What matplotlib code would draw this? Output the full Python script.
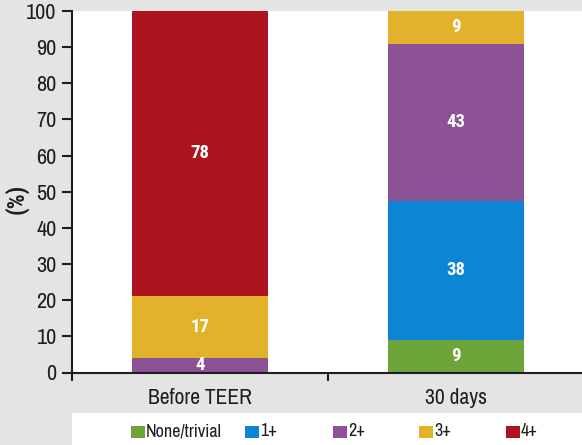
import matplotlib
matplotlib.use("Agg")
import matplotlib.pyplot as plt
from matplotlib.patches import Rectangle
import numpy as np

categories = ["Before TEER", "30 days"]
grades = ["None/trivial", "1+", "2+", "3+", "4+"]
values = {
    "None/trivial": [0, 9],
    "1+": [0, 38],
    "2+": [4, 43],
    "3+": [17, 9],
    "4+": [78, 0],
}
colors = {
    "None/trivial": "#6da53b",
    "1+": "#0b86d7",
    "2+": "#8c5295",
    "3+": "#e2b32a",
    "4+": "#ad141d",
}
yticks = [0, 10, 20, 30, 40, 50, 60, 70, 80, 90, 100]

FONT = ["Archivo Narrow", "Pragati Narrow", "Liberation Sans", "DejaVu Sans"]
BOLD = ["Roboto Condensed", "Pragati Narrow", "Liberation Sans", "DejaVu Sans"]
plt.rcParams["font.family"] = FONT
TXT = "#1e1e1e"
BG = "#e4e4e4"

W, H = 582, 445
fig = plt.figure(figsize=(W / 100, H / 100), dpi=100, facecolor=BG)
ax = fig.add_axes([72 / W, 1 - 372.5 / H, 512 / W, (372.5 - 11) / H])
ax.set_facecolor("white")

x = np.arange(len(categories))
totals = np.sum([values[g] for g in grades], axis=0)
bottom = np.zeros(len(categories))
for g in grades:
    raw = np.array(values[g], dtype=float)
    h = raw / totals * 100
    ax.bar(x, h, width=0.53, bottom=bottom, color=colors[g], edgecolor="none", zorder=2)
    for i in range(len(categories)):
        if raw[i] > 0:
            ax.text(x[i], bottom[i] + h[i] / 2, f"{int(raw[i])}", ha="center", va="center",
                    color="white", fontsize=13.5, fontweight="bold", family=BOLD, zorder=3)
    bottom += h

ax.set_xlim(-0.5, 1.5)
ax.set_ylim(0, 100)
ax.set_yticks(yticks)
ax.set_yticklabels([str(t) for t in yticks], fontsize=16, color=TXT)
ax.set_xticks(x)
ax.set_xticklabels(categories, fontsize=15.5, color=TXT)
ax.tick_params(axis="x", length=0, pad=11)
ax.set_xticks([-0.5, 0.5, 1.5], minor=True)
ax.tick_params(axis="x", which="minor", length=6, width=1.5, color=TXT, direction="out")
ax.tick_params(axis="y", length=7, width=1.5, color=TXT, pad=4)
for s in ["top", "right"]:
    ax.spines[s].set_visible(False)
for s in ["left", "bottom"]:
    ax.spines[s].set_linewidth(1.5)
    ax.spines[s].set_color(TXT)
ax.set_ylabel("(%)", fontsize=17, fontweight="bold", family=BOLD, color=TXT)
ax.yaxis.set_label_coords(-0.084, 0.48)

# legend box
fig.add_artist(Rectangle((72 / W, 0), (W - 72) / W, (445 - 413) / H,
                         transform=fig.transFigure, facecolor="white", edgecolor="none"))
leg_x = [131, 245, 333, 419, 506]
for lx, g in zip(leg_x, grades):
    fig.add_artist(Rectangle((lx / W, 1 - 437.5 / H), 14 / W, 12 / H,
                             transform=fig.transFigure, facecolor=colors[g], edgecolor="none"))
    fig.text((lx + 15) / W, 1 - 431.5 / H, g, fontsize=13, color=TXT, ha="left", va="center")

fig.savefig("out.png", dpi=100, facecolor=BG)
